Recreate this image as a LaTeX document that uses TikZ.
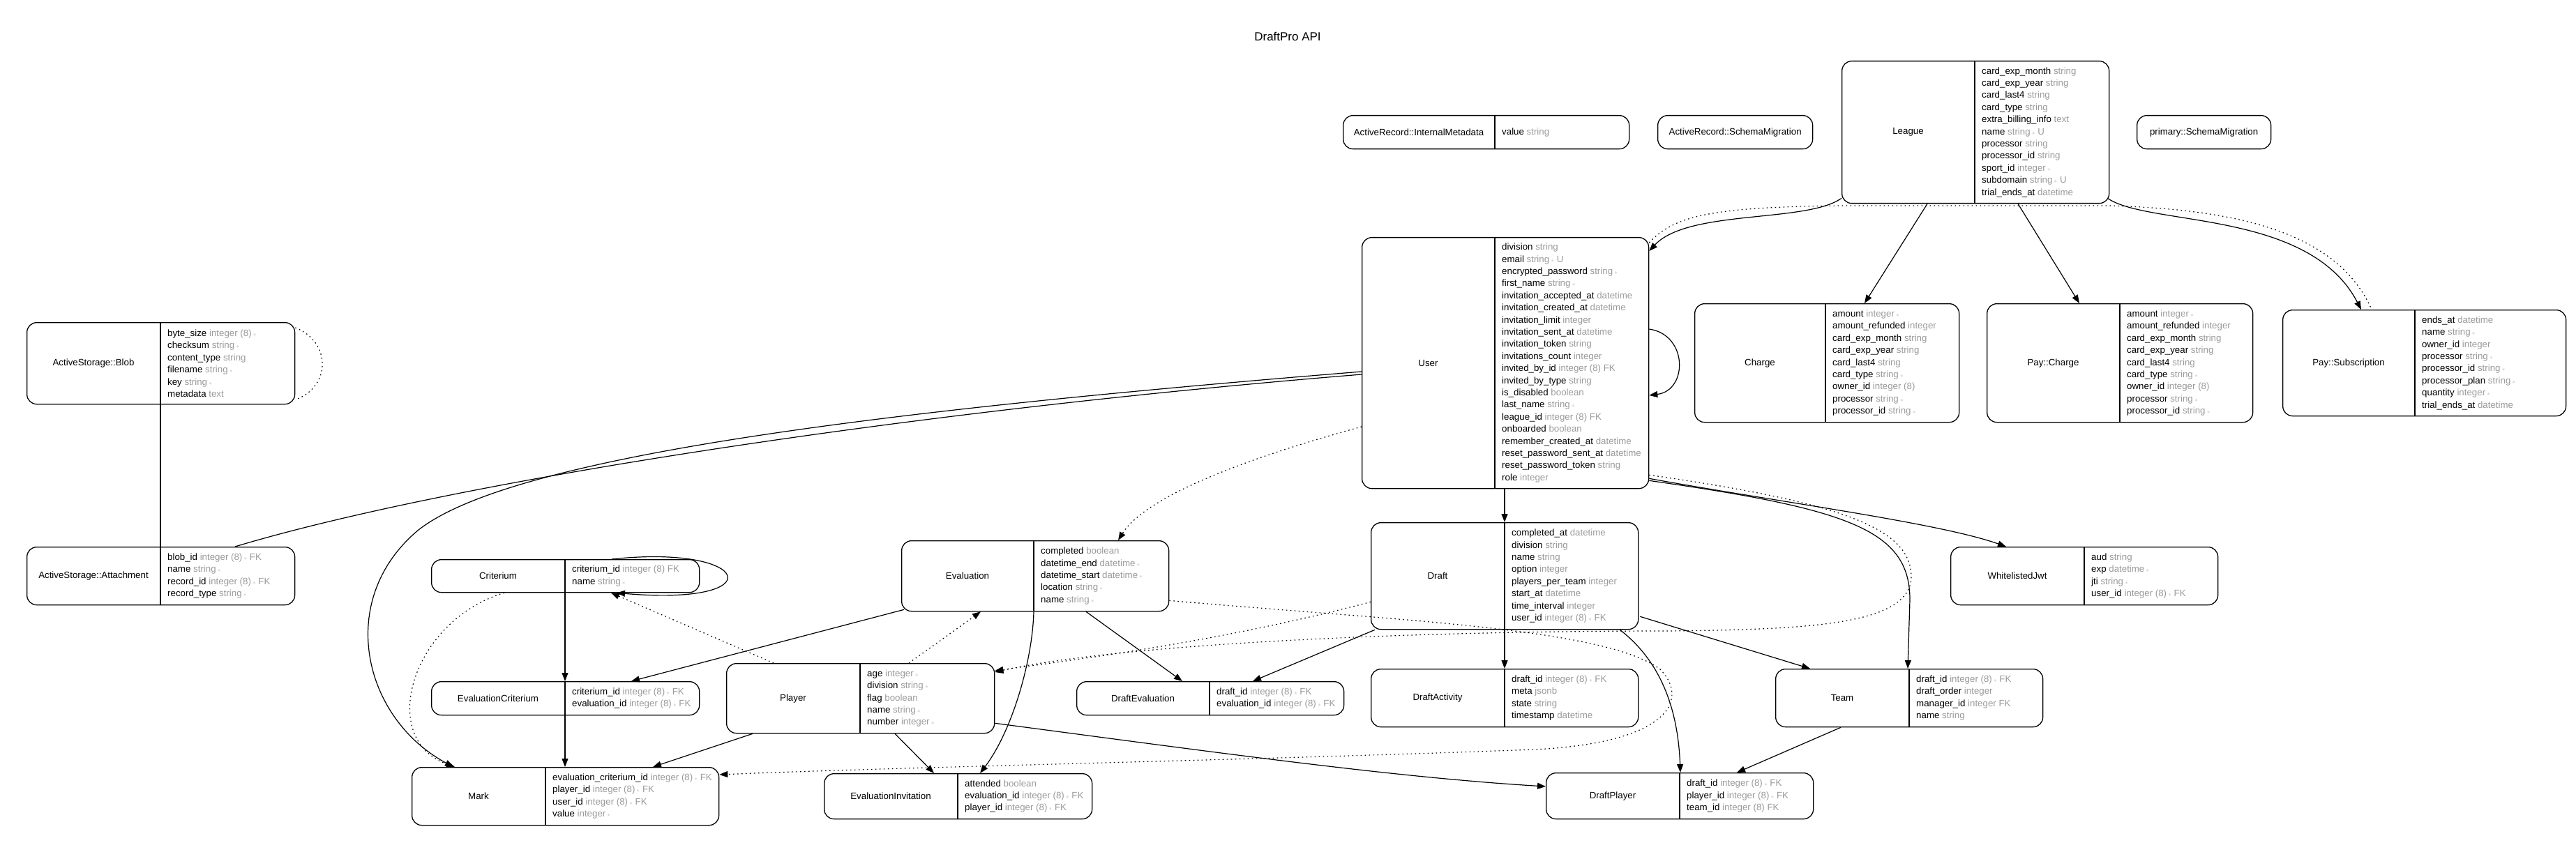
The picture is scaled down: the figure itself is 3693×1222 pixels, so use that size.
\documentclass[tikz,border=0pt]{standalone}
\usepackage{fontspec}
\setmainfont{Liberation Sans}
\usetikzlibrary{arrows.meta}

\definecolor{typegray}{HTML}{9A9A9A}
\definecolor{stargray}{HTML}{B8B8B8}
\newcommand{\ty}[1]{\textcolor{typegray}{#1}}
\newcommand{\nn}{\,\textcolor{stargray}{$\scriptstyle\ast$}}

% #1 node, #2 x, #3 y, #4 width, #5 height, #6 split, #7 model, #8 columns
\newcommand{\erdbox}[8]{%
	\node[erd, minimum width=#4pt, minimum height=#5pt] (#1) at (#2, #3) {};
	\draw[erd line] ([xshift=#6pt]#1.north west) -- ([xshift=#6pt]#1.south west);
	\node at ([xshift=#6pt/2]#1.west) {#7};
	\node[erd cols] at ([xshift=#6pt+10pt]#1.west) {#8};
}

\begin{document}
\begin{tikzpicture}[x=1pt, y=-1pt,
	every node/.style={font=\fontsize{13.3}{17.4}\selectfont},
	erd/.style={draw, rounded corners=14pt, line width=1.3pt, inner sep=0pt, anchor=north west},
	erd line/.style={line width=1.3pt},
	erd cols/.style={anchor=west, align=left, inner sep=0pt},
	link/.style={line width=1.2pt},
	rel/.style={link, -{Triangle[length=12pt, width=9pt]}},
	ind/.style={rel, dash pattern=on 1.6pt off 4.4pt},
	ind link/.style={link, dash pattern=on 1.6pt off 4.4pt}]
	
	\useasboundingbox (0,0) rectangle (3693,1222);
	\node[font=\fontsize{17}{20}\selectfont] (title) at (1846, 52) {DraftPro API};
	
	\erdbox{armeta}{1925}{165}{410}{48}{218}{ActiveRecord::InternalMetadata}{value \ty{string}}
	\node[erd, minimum width=222pt, minimum height=48pt] (armig) at (2376, 165) {ActiveRecord::SchemaMigration};
	\node[erd, minimum width=192pt, minimum height=48pt] (primig) at (3063, 165) {primary::SchemaMigration};
	\erdbox{league}{2640}{87}{383}{204}{191}{League}{card\_exp\_month \ty{string}\\ card\_exp\_year \ty{string}\\ card\_last4 \ty{string}\\ card\_type \ty{string}\\ extra\_billing\_info \ty{text}\\ name \ty{string\nn{} U}\\ processor \ty{string}\\ processor\_id \ty{string}\\ sport\_id \ty{integer\nn}\\ subdomain \ty{string\nn{} U}\\ trial\_ends\_at \ty{datetime}}
	\erdbox{user}{1952}{340}{411}{360}{191}{User}{division \ty{string}\\ email \ty{string\nn{} U}\\ encrypted\_password \ty{string\nn}\\ first\_name \ty{string\nn}\\ invitation\_accepted\_at \ty{datetime}\\ invitation\_created\_at \ty{datetime}\\ invitation\_limit \ty{integer}\\ invitation\_sent\_at \ty{datetime}\\ invitation\_token \ty{string}\\ invitations\_count \ty{integer}\\ invited\_by\_id \ty{integer (8) FK}\\ invited\_by\_type \ty{string}\\ is\_disabled \ty{boolean}\\ last\_name \ty{string\nn}\\ league\_id \ty{integer (8) FK}\\ onboarded \ty{boolean}\\ remember\_created\_at \ty{datetime}\\ reset\_password\_sent\_at \ty{datetime}\\ reset\_password\_token \ty{string}\\ role \ty{integer}}
	\erdbox{charge}{2429}{435}{379}{170}{188}{Charge}{amount \ty{integer\nn}\\ amount\_refunded \ty{integer}\\ card\_exp\_month \ty{string}\\ card\_exp\_year \ty{string}\\ card\_last4 \ty{string}\\ card\_type \ty{string\nn}\\ owner\_id \ty{integer (8)}\\ processor \ty{string\nn}\\ processor\_id \ty{string\nn}}
	\erdbox{paycharge}{2848}{435}{381}{170}{191}{Pay::Charge}{amount \ty{integer\nn}\\ amount\_refunded \ty{integer}\\ card\_exp\_month \ty{string}\\ card\_exp\_year \ty{string}\\ card\_last4 \ty{string}\\ card\_type \ty{string\nn}\\ owner\_id \ty{integer (8)}\\ processor \ty{string\nn}\\ processor\_id \ty{string\nn}}
	\erdbox{paysub}{3272}{444}{406}{152}{190}{Pay::Subscription}{ends\_at \ty{datetime}\\ name \ty{string\nn}\\ owner\_id \ty{integer}\\ processor \ty{string\nn}\\ processor\_id \ty{string\nn}\\ processor\_plan \ty{string\nn}\\ quantity \ty{integer\nn}\\ trial\_ends\_at \ty{datetime}}
	\erdbox{blob}{38}{462}{384}{117}{192}{ActiveStorage::Blob}{byte\_size \ty{integer (8)\nn}\\ checksum \ty{string\nn}\\ content\_type \ty{string}\\ filename \ty{string\nn}\\ key \ty{string\nn}\\ metadata \ty{text}}
	\erdbox{attach}{38}{784}{384}{83}{192}{ActiveStorage::Attachment}{blob\_id \ty{integer (8)\nn{} FK}\\ name \ty{string\nn}\\ record\_id \ty{integer (8)\nn{} FK}\\ record\_type \ty{string\nn}}
	\erdbox{criterium}{618}{802}{384}{47}{192}{Criterium}{criterium\_id \ty{integer (8) FK}\\ name \ty{string\nn}}
	\erdbox{evalcrit}{618}{977}{384}{48}{192}{EvaluationCriterium}{criterium\_id \ty{integer (8)\nn{} FK}\\ evaluation\_id \ty{integer (8)\nn{} FK}}
	\erdbox{mark}{590}{1100}{440}{83}{192}{Mark}{evaluation\_criterium\_id \ty{integer (8)\nn{} FK}\\ player\_id \ty{integer (8)\nn{} FK}\\ user\_id \ty{integer (8)\nn{} FK}\\ value \ty{integer\nn}}
	\erdbox{evaluation}{1292}{775}{383}{101}{190}{Evaluation}{completed \ty{boolean}\\ datetime\_end \ty{datetime\nn}\\ datetime\_start \ty{datetime\nn}\\ location \ty{string\nn}\\ name \ty{string\nn}}
	\erdbox{player}{1041}{951}{384}{100}{192}{Player}{age \ty{integer\nn}\\ division \ty{string\nn}\\ flag \ty{boolean}\\ name \ty{string\nn}\\ number \ty{integer\nn}}
	\erdbox{draft}{1965}{749}{383}{153}{192}{Draft}{completed\_at \ty{datetime}\\ division \ty{string}\\ name \ty{string}\\ option \ty{integer}\\ players\_per\_team \ty{integer}\\ start\_at \ty{datetime}\\ time\_interval \ty{integer}\\ user\_id \ty{integer (8)\nn{} FK}}
	\erdbox{drafteval}{1543}{977}{383}{48}{191}{DraftEvaluation}{draft\_id \ty{integer (8)\nn{} FK}\\ evaluation\_id \ty{integer (8)\nn{} FK}}
	\erdbox{draftact}{1965}{959}{383}{83}{192}{DraftActivity}{draft\_id \ty{integer (8)\nn{} FK}\\ meta \ty{jsonb}\\ state \ty{string}\\ timestamp \ty{datetime}}
	\erdbox{jwt}{2796}{784}{383}{83}{192}{WhitelistedJwt}{aud \ty{string}\\ exp \ty{datetime\nn}\\ jti \ty{string\nn}\\ user\_id \ty{integer (8)\nn{} FK}}
	\erdbox{team}{2545}{959}{383}{83}{192}{Team}{draft\_id \ty{integer (8)\nn{} FK}\\ draft\_order \ty{integer}\\ manager\_id \ty{integer FK}\\ name \ty{string}}
	\erdbox{draftplayer}{2216}{1108}{383}{66}{192}{DraftPlayer}{draft\_id \ty{integer (8)\nn{} FK}\\ player\_id \ty{integer (8)\nn{} FK}\\ team\_id \ty{integer (8) FK}}
	\erdbox{evalinv}{1181}{1109}{384}{65}{192}{EvaluationInvitation}{attended \ty{boolean}\\ evaluation\_id \ty{integer (8)\nn{} FK}\\ player\_id \ty{integer (8)\nn{} FK}}
	
	% league
	\draw[rel] ([shift={(0,-8)}]league.south west) .. controls (2590,320) and (2420,300) .. ([shift={(0,20)}]user.north east);
	\path[rel] ([shift={(123,0)}]league.south west) edge ([shift={(244,0)}]charge.north west);
	\path[rel] ([shift={(253,0)}]league.south west) edge ([shift={(133,0)}]paycharge.north west);
	\draw[rel] ([shift={(-3,-8)}]league.south east) .. controls (3080,325) and (3310,300) .. ([shift={(113,0)}]paysub.north west);
	\draw[ind link] ([shift={(0,8)}]user.north east) .. controls (2400,310) and (2450,297) .. (2640,295) -- (3023,295) .. controls (3200,300) and (3350,330) .. ([shift={(128,0)}]paysub.north west);
	
	% user
	\draw[rel] ([shift={(0,132)}]user.north east) .. controls (2420,480) and (2420,560) .. ([shift={(0,227)}]user.north east);
	\path[rel] ([shift={(205,0)}]user.south west) edge ([shift={(192,0)}]draft.north west);
	\draw[rel] ([shift={(0,-15)}]user.south east) .. controls (2550,720) and (2780,750) .. ([shift={(80,0)}]jwt.north west);
	\draw[rel] ([shift={(0,-12)}]user.south east) .. controls (2650,730) and (2738,760) .. (2738,860) -- ([shift={(190,0)}]team.north west);
	\draw[ind] ([shift={(0,-20)}]user.south east) .. controls (2650,722) and (2742,760) .. (2740,830) .. controls (2735,895) and (2600,903) .. (2391,905) .. controls (2000,905) and (1600,925) .. ([shift={(0,13)}]player.north east);
	\draw[ind] ([shift={(0,272)}]user.north west) .. controls (1850,640) and (1650,700) .. ([shift={(311,0)}]evaluation.north west);
	\draw[rel] ([shift={(0,193)}]user.north west) .. controls (1300,586) and (740,650) .. (600,760) .. controls (480,860) and (520,1030) .. ([shift={(60,0)}]mark.north west);
	\draw[link] ([shift={(0,197)}]user.north west) .. controls (1300,590) and (650,690) .. ([shift={(299,0)}]attach.north west);
	
	% active storage
	\path[link] ([shift={(192,0)}]blob.south west) edge ([shift={(192,0)}]attach.north west);
	\draw[ind link] ([shift={(0,8)}]blob.north east) .. controls (475,490) and (475,555) .. ([shift={(0,-7)}]blob.south east);
	
	% criteria
	\draw[rel] ([shift={(259,0)}]criterium.north west) .. controls (1080,780) and (1110,870) .. ([shift={(266,0)}]criterium.south west);
	\path[rel] ([shift={(192,0)}]criterium.south west) edge ([shift={(192,0)}]evalcrit.north west);
	\path[rel] ([shift={(192,0)}]evalcrit.south west) edge ([shift={(220,0)}]mark.north west);
	\draw[ind] ([shift={(105,0)}]criterium.south west) .. controls (590,890) and (540,1060) .. ([shift={(62,0)}]mark.north west);
	
	% evaluation
	\path[rel] ([shift={(4,-3)}]evaluation.south west) edge ([shift={(287,0)}]evalcrit.north west);
	\path[rel] ([shift={(265,0)}]evaluation.south west) edge ([shift={(152,0)}]drafteval.north west);
	\draw[rel] ([shift={(190,0)}]evaluation.south west) .. controls (1480,950) and (1450,1050) .. ([shift={(224,0)}]evalinv.north west);
	\draw[ind] ([shift={(0,-16)}]evaluation.south east) .. controls (2000,890) and (2300,900) .. (2380,960) .. controls (2420,1000) and (2400,1065) .. (2200,1075) .. controls (1800,1090) and (1300,1100) .. ([shift={(0,11)}]mark.north east);
	
	% player
	\path[ind] ([shift={(68,0)}]player.north west) edge ([shift={(258,0)}]criterium.south west);
	\path[ind] ([shift={(262,0)}]player.north west) edge ([shift={(114,0)}]evaluation.south west);
	\path[rel] ([shift={(38,0)}]player.south west) edge ([shift={(346,0)}]mark.north west);
	\path[rel] ([shift={(242,0)}]player.south west) edge ([shift={(158,0)}]evalinv.north west);
	\draw[rel] ([shift={(0,-15)}]player.south east) .. controls (1750,1080) and (2000,1115) .. ([shift={(0,20)}]draftplayer.north west);
	
	% draft
	\draw[ind] ([shift={(0,-40)}]draft.south west) .. controls (1750,920) and (1550,945) .. ([shift={(0,11)}]player.north east);
	\path[rel] ([shift={(192,0)}]draft.south west) edge ([shift={(192,0)}]draftact.north west);
	\path[rel] ([shift={(6,0)}]draft.south west) edge ([shift={(253,0)}]drafteval.north west);
	\path[rel] ([shift={(2,-19)}]draft.south east) edge ([shift={(50,0)}]team.north west);
	\draw[rel] ([shift={(-27,0)}]draft.south east) .. controls (2370,940) and (2405,1000) .. ([shift={(193,0)}]draftplayer.north west);
	\path[rel] ([shift={(94,0)}]team.south west) edge ([shift={(274,0)}]draftplayer.north west);
	
\end{tikzpicture}
\end{document}
